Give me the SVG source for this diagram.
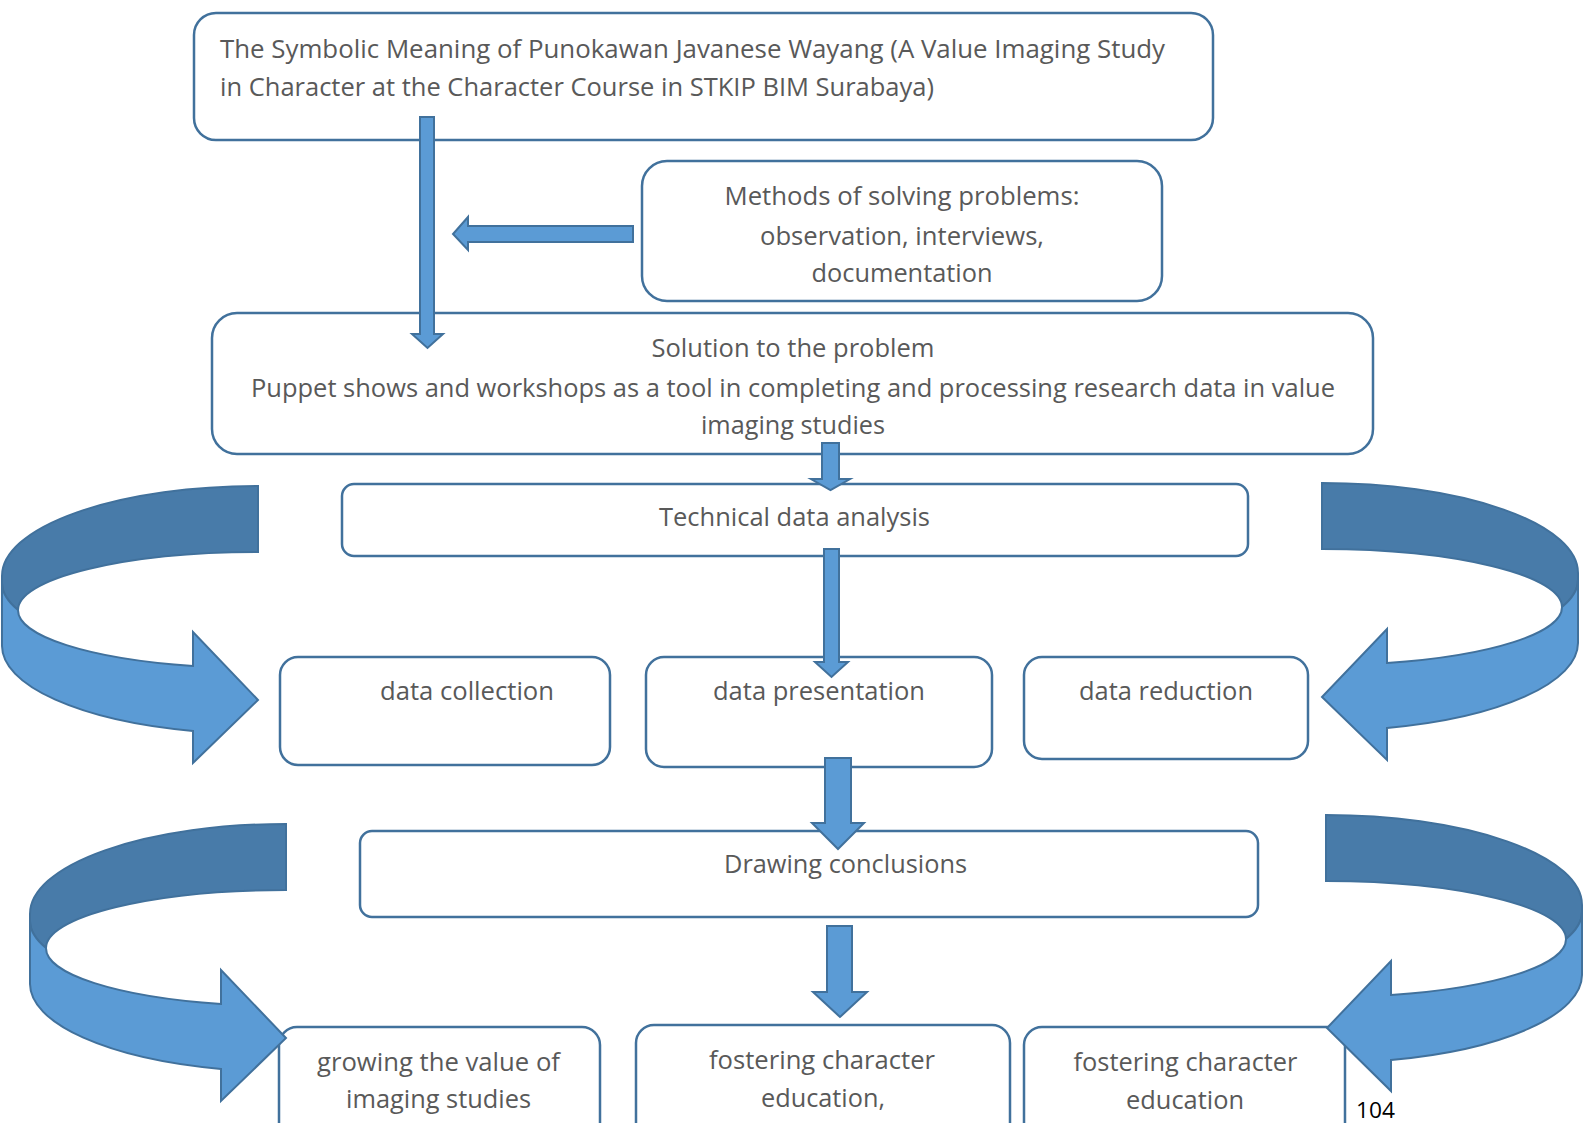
<svg xmlns="http://www.w3.org/2000/svg" width="1588" height="1123" viewBox="0 0 1588 1123">
<style>
.box{fill:#fff;stroke:#41719C;stroke-width:2.5}
.t{font-family:"Open Sans","Liberation Sans",sans-serif;font-size:25px;fill:#595959;text-anchor:middle}
.ts{text-anchor:start}
.arr{fill:#5B9BD5;stroke:#41719C;stroke-width:2;stroke-linejoin:miter}
.dark{fill:#487BA9;stroke:#41719C;stroke-width:2}
.pg{font-family:"Open Sans","Liberation Sans",sans-serif;font-size:22px;fill:#000}
</style>
<rect width="1588" height="1123" fill="#fff"/>
<g id="nodes">
<g id="title"><rect class="box" x="194" y="13" width="1019" height="127" rx="22"/>
<text class="t ts" x="220" y="57.5" textLength="945" lengthAdjust="spacingAndGlyphs">The Symbolic Meaning of Punokawan Javanese Wayang (A Value Imaging Study</text>
<text class="t ts" x="220" y="95.5" textLength="714" lengthAdjust="spacingAndGlyphs">in Character at the Character Course in STKIP BIM Surabaya)</text></g>
<g id="methods"><rect class="box" x="642" y="161" width="520" height="140" rx="25"/>
<text class="t" x="902" y="204.5" textLength="355" lengthAdjust="spacingAndGlyphs">Methods of solving problems:</text>
<text class="t" x="902" y="244.5" textLength="284" lengthAdjust="spacingAndGlyphs">observation, interviews,</text>
<text class="t" x="902" y="281.5" textLength="181" lengthAdjust="spacingAndGlyphs">documentation</text></g>
<g id="solution"><rect class="box" x="212" y="313" width="1161" height="141" rx="25"/>
<text class="t" x="793" y="356.5" textLength="283" lengthAdjust="spacingAndGlyphs">Solution to the problem</text>
<text class="t" x="793" y="396.5" textLength="1084" lengthAdjust="spacingAndGlyphs">Puppet shows and workshops as a tool in completing and processing research data in value</text>
<text class="t" x="793" y="433.5" textLength="184" lengthAdjust="spacingAndGlyphs">imaging studies</text></g>
<g id="technical"><rect class="box" x="342" y="484" width="906" height="72" rx="12"/>
<text class="t" x="794.5" y="525.5" textLength="271" lengthAdjust="spacingAndGlyphs">Technical data analysis</text></g>
<g id="collection"><rect class="box" x="280" y="657" width="330" height="108" rx="18"/>
<text class="t" x="467" y="699.5" textLength="174" lengthAdjust="spacingAndGlyphs">data collection</text></g>
<g id="presentation"><rect class="box" x="646" y="657" width="346" height="110" rx="18"/>
<text class="t" x="819" y="699.5" textLength="212" lengthAdjust="spacingAndGlyphs">data presentation</text></g>
<g id="reduction"><rect class="box" x="1024" y="657" width="284" height="102" rx="18"/>
<text class="t" x="1166" y="699.5" textLength="174" lengthAdjust="spacingAndGlyphs">data reduction</text></g>
<g id="drawing"><rect class="box" x="360" y="831" width="898" height="86" rx="12"/>
<text class="t" x="845.5" y="872.5" textLength="243" lengthAdjust="spacingAndGlyphs">Drawing conclusions</text></g>
<g id="growing"><rect class="box" x="279" y="1027" width="321" height="120" rx="18"/>
<text class="t" x="438.5" y="1070.5" textLength="243" lengthAdjust="spacingAndGlyphs">growing the value of</text>
<text class="t" x="438.5" y="1107.5" textLength="185" lengthAdjust="spacingAndGlyphs">imaging studies</text></g>
<g id="fostering1"><rect class="box" x="636" y="1025" width="374" height="120" rx="18"/>
<text class="t" x="822" y="1068.5" textLength="226" lengthAdjust="spacingAndGlyphs">fostering character</text>
<text class="t" x="823" y="1106.5" textLength="124" lengthAdjust="spacingAndGlyphs">education,</text></g>
<g id="fostering2"><rect class="box" x="1024" y="1027" width="321" height="120" rx="18"/>
<text class="t" x="1185.5" y="1070.5" textLength="224" lengthAdjust="spacingAndGlyphs">fostering character</text>
<text class="t" x="1185" y="1108.5" textLength="118" lengthAdjust="spacingAndGlyphs">education</text></g>
</g>
<g id="connectors">
<polygon class="arr" points="420,117 434,117 434,334 443,334 427.5,348 412,334 420,334"/>
<polygon class="arr" points="633,226 633,242 468,242 468,250 453,234 468,217 468,226"/>
<polygon class="arr" points="822,443 839,443 839,479 850,479 830.5,490 811,479 822,479"/>
<polygon class="arr" points="824,549 839,549 839,662 848,662 831.5,677 815,662 824,662"/>
<polygon class="arr" points="825,758 851,758 851,823 864,823 838,849 812,823 825,823"/>
<polygon class="arr" points="827,926 852,926 852,992 867,992 840,1017 813,992 827,992"/>
<g id="curve-top-left">
<path class="dark" d="M258,486 A256,90 0 0 0 2,576 L2,583 A256,78 0 0 0 18,610 A240,58 0 0 1 258,552 Z"/>
<path class="arr" d="M2,583 L2,646 A256,88 0 0 0 193,731 L193,763 L258,700 L193,632 L193,666 A240,58 0 0 1 18,610 A256,78 0 0 1 2,583 Z"/>
</g>
<g id="curve-top-right">
<path class="dark" d="M1322,483 A256,90 0 0 1 1578,573 L1578,580 A256,78 0 0 1 1562,607 A240,58 0 0 0 1322,549 Z"/>
<path class="arr" d="M1578,580 L1578,643 A256,88 0 0 1 1387,728 L1387,760 L1322,697 L1387,629 L1387,663 A240,58 0 0 0 1562,607 A256,78 0 0 0 1578,580 Z"/>
</g>
<g id="curve-bottom-left">
<path class="dark" d="M286,824 A256,90 0 0 0 30,914 L30,921 A256,78 0 0 0 46,948 A240,58 0 0 1 286,890 Z"/>
<path class="arr" d="M30,921 L30,984 A256,88 0 0 0 221,1069 L221,1101 L286,1038 L221,970 L221,1004 A240,58 0 0 1 46,948 A256,78 0 0 1 30,921 Z"/>
</g>
<g id="curve-bottom-right">
<path class="dark" d="M1326,815 A256,90 0 0 1 1582,905 L1582,912 A256,78 0 0 1 1566,939 A240,58 0 0 0 1326,881 Z"/>
<path class="arr" d="M1582,912 L1582,975 A256,88 0 0 1 1391,1060 L1391,1091 L1327,1028 L1391,961 L1391,995 A240,58 0 0 0 1566,939 A256,78 0 0 0 1582,912 Z"/>
</g>
</g>
<text class="pg" x="1356" y="1118" textLength="39" lengthAdjust="spacingAndGlyphs">104</text>
</svg>
